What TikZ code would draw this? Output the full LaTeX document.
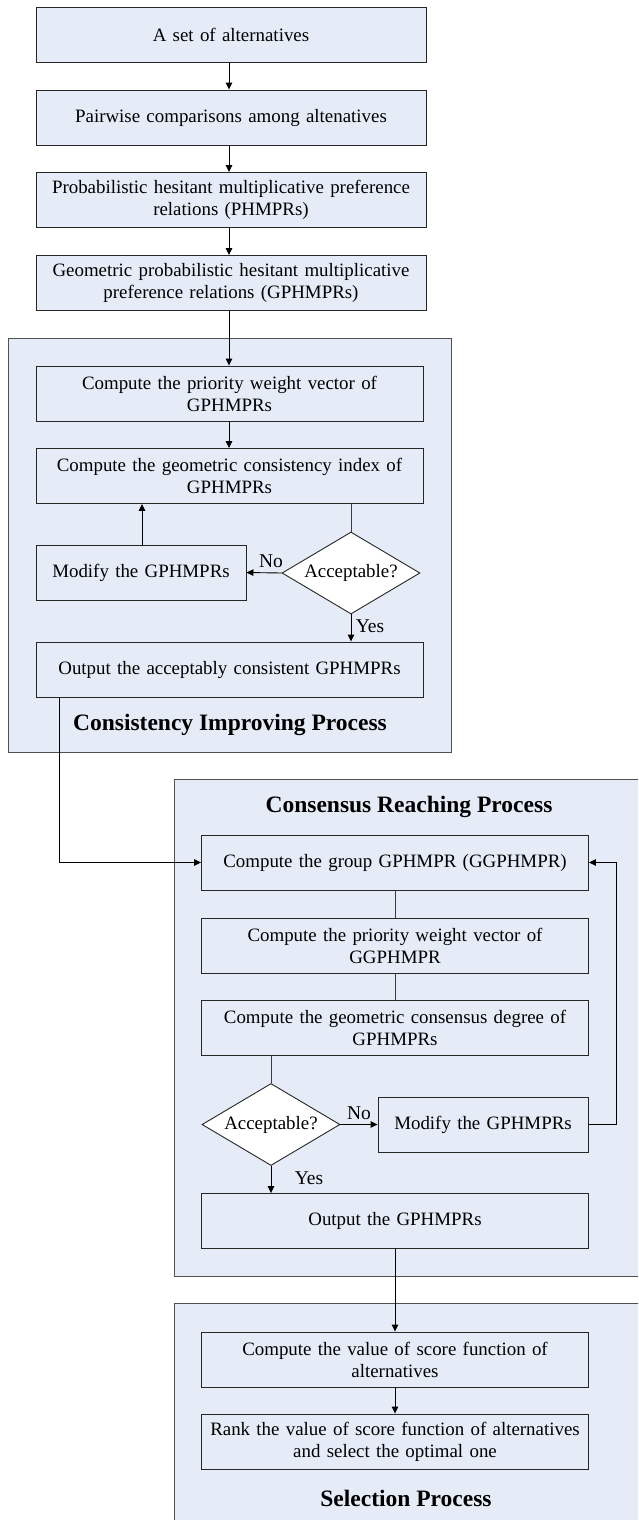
\documentclass[tikz,border=0pt]{standalone}
\usepackage{fontspec}
\setmainfont{Liberation Serif}
\usetikzlibrary{shapes.geometric,arrows.meta}
\definecolor{boxfill}{RGB}{230,236,247}
\definecolor{framec}{RGB}{80,80,80}
\definecolor{linec}{RGB}{60,60,60}
\begin{document}
\begin{tikzpicture}[x=1pt,y=-1pt,
  every node/.style={font=\fontsize{18.9}{22}\selectfont},
  stepbox/.style={draw=black!85, line width=0.9pt, fill=boxfill, minimum height=55pt, inner sep=0pt, align=center},
  widebox/.style={stepbox, minimum width=387pt, text width=382pt},
  topbox/.style={stepbox, minimum width=390pt, text width=386pt},
  modbox/.style={stepbox, minimum width=210pt, text width=206pt},
  decide/.style={diamond, draw=black!85, line width=0.9pt, fill=white, aspect=1.68, minimum width=138pt, minimum height=82pt, inner sep=0pt},
  frame/.style={draw=framec, line width=1pt, fill=boxfill},
  ttl/.style={font=\fontsize{23.5}{26}\selectfont\bfseries},
  lbl/.style={font=\fontsize{19.5}{22}\selectfont},
  arr/.style={draw=black, line width=0.9pt, -{Triangle[length=7pt,width=6.5pt]}},
  ln/.style={draw=linec, line width=0.9pt}
]
\clip (0,0) rectangle (638,1520);
\fill[white] (0,0) rectangle (638,1520);
% containers
\path[frame] (8,338) rectangle (451,752);
\path[frame] (174,779) rectangle (660,1276);
\path[frame] (174,1303) rectangle (660,1540);

% top chain
\node[topbox] (b1) at (231,34.5) {A set of alternatives};
\node[topbox] (b2) at (231,117.5) {Pairwise comparisons among altenatives};
\node[topbox] (b3) at (231,200) {Probabilistic hesitant multiplicative preference\\relations (PHMPRs)};
\node[topbox] (b4) at (231,283) {Geometric probabilistic hesitant multiplicative\\preference relations (GPHMPRs)};

% consistency improving
\node[widebox] (c1) at (229.5,393.5) {Compute the priority weight vector of\\GPHMPRs};
\node[widebox] (c2) at (229.5,476) {Compute the geometric consistency index of\\GPHMPRs};
\node[modbox] (m1) at (141,572.5) {Modify the GPHMPRs};
\node[decide] (d1) at (351,573) {Acceptable?};
\node[widebox] (o1) at (229.5,669.5) {Output the acceptably consistent GPHMPRs};
\node[ttl] (t1) at (230,725) {Consistency Improving Process};

% consensus reaching
\node[ttl] (t2) at (409,807) {Consensus Reaching Process};
\node[widebox] (g1) at (395,862.5) {Compute the group GPHMPR (GGPHMPR)};
\node[widebox] (g2) at (395,945.5) {Compute the priority weight vector of\\GGPHMPR};
\node[widebox] (g3) at (395,1028) {Compute the geometric consensus degree of\\GPHMPRs};
\node[decide] (d2) at (271,1124.5) {Acceptable?};
\node[modbox] (m2) at (483,1124.5) {Modify the GPHMPRs};
\node[widebox] (o2) at (395,1221) {Output the GPHMPRs};

% selection
\node[widebox] (s1) at (395,1359.5) {Compute the value of score function of\\alternatives};
\node[widebox] (s2) at (395,1441.5) {Rank the value of score function of alternatives\\and select the optimal one};
\node[ttl] (t3) at (406,1498) {Selection Process};

% connectors top
\draw[arr] (b1.south -| 229,0) -- (b2.north -| 229,0);
\draw[arr] (b2.south -| 229,0) -- (b3.north -| 229,0);
\draw[arr] (b3.south -| 229,0) -- (b4.north -| 229,0);
\draw[arr] (b4.south -| 229,0) -- (c1.north -| 229,0);
\draw[arr] (c1.south -| 229,0) -- (c2.north -| 229,0);
\draw[ln] (c2.south -| d1.north) -- (d1.north);
\draw[arr] (d1.west) -- node[lbl, above, pos=0.3, yshift=1pt] {No} (m1.east);
\draw[arr] (m1.north -| 142,0) -- (c2.south -| 142,0);
\draw[arr] (d1.south) -- node[lbl, right, pos=0.45, xshift=1pt] {Yes} (o1.north -| d1.south);

% link to consensus
\coordinate (k1) at (59,862.5);
\draw[arr] (o1.south -| 59,0) -- (k1) -- (g1.west);

% consensus connectors
\draw[ln] (g1.south) -- (g2.north);
\draw[ln] (g2.south) -- (g3.north);
\draw[ln] (g3.south -| d2.north) -- (d2.north);
\draw[arr] (d2.east) -- node[lbl, above, pos=0.5, yshift=1pt] {No} (m2.west);
\coordinate (k2) at (616,1124.5);
\coordinate (k3) at (616,862.5);
\draw[arr] (m2.east) -- (k2) -- (k3) -- (g1.east);
\draw[arr] (d2.south) -- node[lbl, right, pos=0.45, xshift=20pt] {Yes} (o2.north -| d2.south);

% selection connectors
\draw[arr] (o2.south) -- (s1.north);
\draw[arr] (s1.south) -- (s2.north);
\end{tikzpicture}
\end{document}
